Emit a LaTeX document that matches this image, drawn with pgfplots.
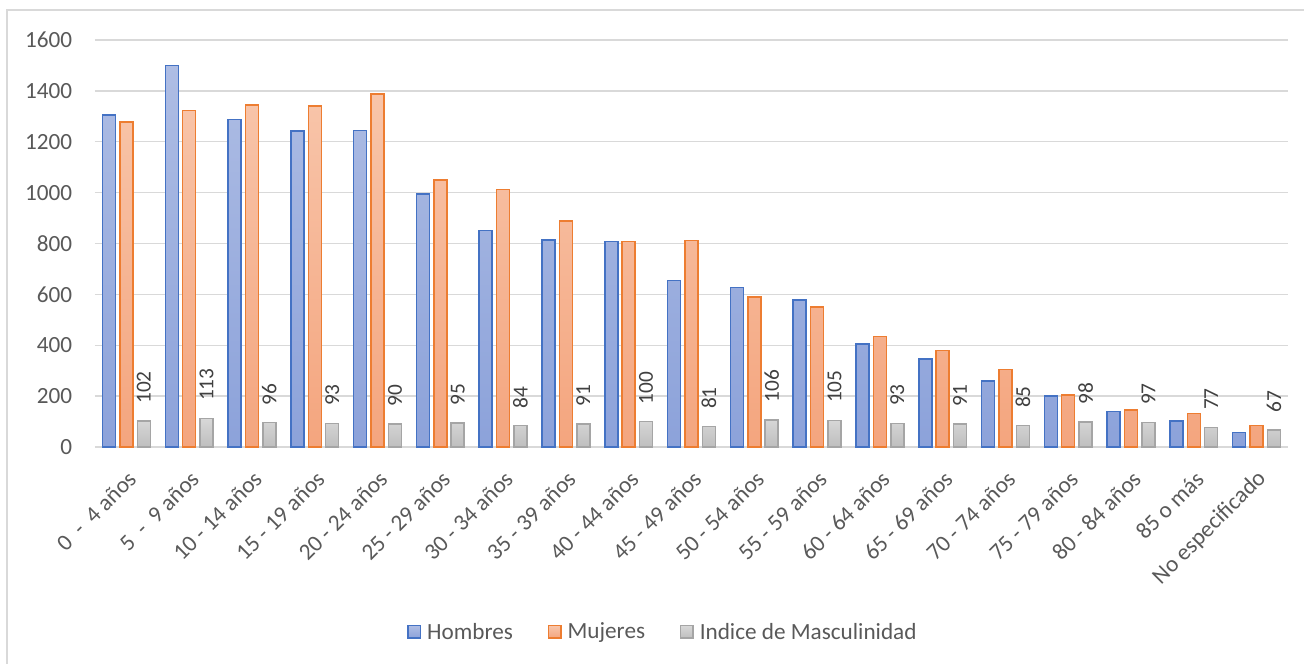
\documentclass[border=0pt]{standalone}
\usepackage{pgfplots}
\pgfplotsset{compat=1.18}
\usepackage{fontspec}
\setmainfont{Carlito}
\definecolor{gridc}{HTML}{D9D9D9}
\definecolor{tickc}{HTML}{595959}
\definecolor{labc}{HTML}{404040}
\definecolor{hEdge}{HTML}{4472C4}
\definecolor{hTop}{HTML}{AEBDE4}
\definecolor{hBot}{HTML}{8CA2DA}
\definecolor{mEdge}{HTML}{ED7D31}
\definecolor{mTop}{HTML}{F8C5AA}
\definecolor{mBot}{HTML}{F4A57E}
\definecolor{gEdge}{HTML}{A5A5A5}
\definecolor{gTop}{HTML}{D8D8D8}
\definecolor{gBot}{HTML}{BEBEBE}
\pgfplotstableread{
x h m i
0 1305 1277 102
1 1500 1322 113
2 1288 1345 96
3 1242 1340 93
4 1245 1388 90
5 995 1050 95
6 852 1012 84
7 813 888 91
8 807 808 100
9 655 812 81
10 628 590 106
11 578 550 105
12 405 435 93
13 345 380 91
14 260 305 85
15 200 205 98
16 140 145 97
17 103 132 77
18 57 85 67
}\datatable
\begin{document}
\begin{tikzpicture}
\useasboundingbox (0,0) rectangle (978pt,498pt);
\draw[gridc, line width=1.1pt] (5.25pt,0) -- (5.25pt,490.5pt) -- (978pt,490.5pt);
\begin{axis}[
  at={(71.25pt,162.75pt)}, anchor=south west,
  scale only axis, width=894.75pt, height=305.25pt,
  xmin=-0.5, xmax=18.5, ymin=0, ymax=1600,
  ytick={0,200,...,1600},
  xtick={0,...,18},
  xticklabels={{0\ \ -\ \ 4 años},{5\ \ -\ \ 9 años},{10 - 14 años},{15 - 19 años},{20 - 24 años},{25 - 29 años},{30 - 34 años},{35 - 39 años},{40 - 44 años},{45 - 49 años},{50 - 54 años},{55 - 59 años},{60 - 64 años},{65 - 69 años},{70 - 74 años},{75 - 79 años},{80 - 84 años},{85 o más},{No especificado}},
  axis line style={draw=none},
  major tick length=0pt,
  ymajorgrids, grid style={gridc, line width=1pt},
  /pgf/number format/assume math mode=true,
  /pgf/number format/set thousands separator={},
  tick label style={font=\fontsize{17.4}{20}\selectfont, text=tickc},
  yticklabel style={anchor=east, inner sep=0pt, xshift=-17pt},
  xticklabel style={xshift=4.5pt, yshift=-21pt, rotate=45, anchor=east, inner sep=0pt},
  ybar, bar width=9.75pt,
  clip=false,
  legend style={draw=none, fill=none, at={(0.2615,-0.4545)}, anchor=west,
    legend columns=3, inner sep=0pt, font=\fontsize{17.4}{20}\selectfont, text=tickc,
    nodes={inner sep=0pt},
    /tikz/every odd column/.append style={column sep=4.5pt},
    /tikz/every even column/.append style={column sep=26pt}},
  legend image code/.code={\draw[#1, line width=1.125pt] (0.56pt,-4.7pt) rectangle (9.9pt,4.7pt);},
]
\addplot[bar shift=-13.05pt, draw=hEdge, line width=1.125pt, top color=hTop, bottom color=hBot] table[x=x,y=h]{\datatable};
\addlegendentry{Hombres}
\addplot[bar shift=0pt, draw=mEdge, line width=1.125pt, top color=mTop, bottom color=mBot] table[x=x,y=m]{\datatable};
\addlegendentry{Mujeres}
\addplot[bar shift=13.05pt, draw=gEdge, line width=1.125pt, top color=gTop, bottom color=gBot,
  nodes near coords,
  every node near coord/.append style={rotate=90, anchor=west, inner xsep=12.5pt, inner ysep=0pt, font=\fontsize{16}{19}\selectfont, text=labc, /pgf/number format/assume math mode=true}] table[x=x,y=i]{\datatable};
\addlegendentry{Indice de Masculinidad}
\end{axis}
\end{tikzpicture}
\end{document}
